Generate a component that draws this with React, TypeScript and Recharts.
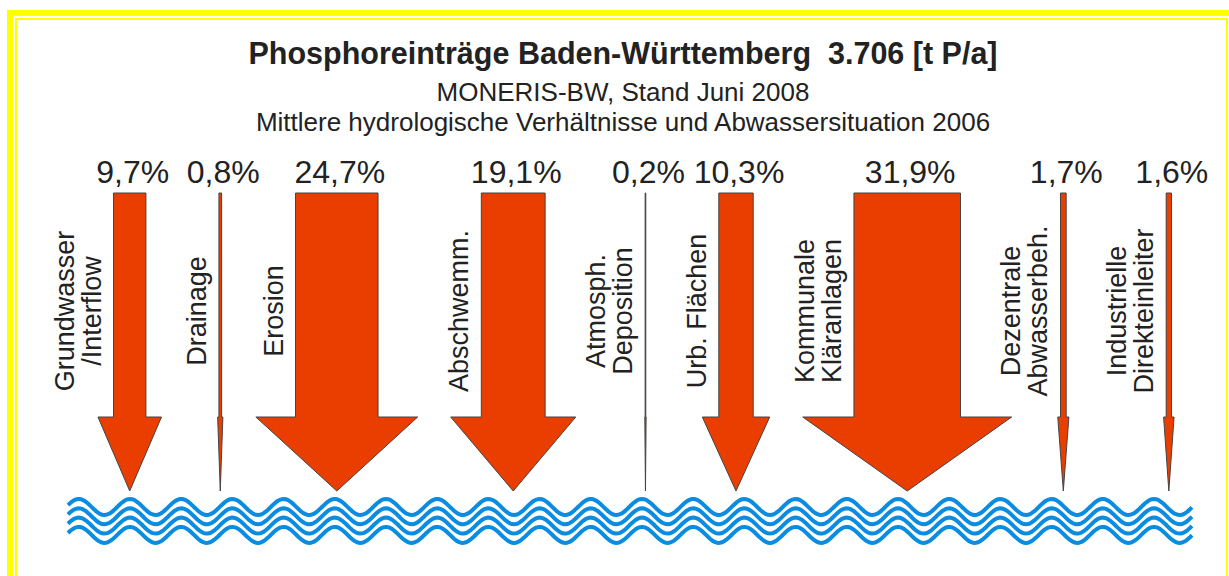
import React from 'react';
import { BarChart, Bar, XAxis, YAxis, Customized } from 'recharts';

// Eintragspfade (Beschriftung zeilenweise) und Anteile in %
const categories = [
  ['Grundwasser', '/Interflow'],
  ['Drainage'],
  ['Erosion'],
  ['Abschwemm.'],
  ['Atmosph.', 'Deposition'],
  ['Urb. Flächen'],
  ['Kommunale', 'Kläranlagen'],
  ['Dezentrale', 'Abwasserbeh.'],
  ['Industrielle', 'Direkteinleiter'],
];
const shares = [9.7, 0.8, 24.7, 19.1, 0.2, 10.3, 31.9, 1.7, 1.6];

const titleText = 'Phosphoreinträge Baden-Württemberg  3.706 [t P/a]';
const subtitles = [
  'MONERIS-BW, Stand Juni 2008',
  'Mittlere hydrologische Verhältnisse und Abwassersituation 2006',
];

// layout constants (px)
const PX_PER_PCT = 6.55;
const SHAFT_RATIO = 0.51;
const LINE_H = 27;
const LABEL_GAP = 13;
const SLOT_GAP = 33;
const W = 1229;
const H = 576;
const FIRST_X = 130;

// arrows are placed side by side: each one needs room for its head
// and for the rotated label sitting left of its shaft
const positions: number[] = [];
shares.forEach((v, i) => {
  if (i === 0) {
    positions.push(0);
    return;
  }
  const pv = shares[i - 1];
  const headRoom = ((pv + v) / 2) * PX_PER_PCT;
  const labelRoom =
    ((pv + v) / 2) * PX_PER_PCT * SHAFT_RATIO + categories[i].length * LINE_H + LABEL_GAP;
  positions.push(positions[i - 1] + Math.max(headRoom, labelRoom) + SLOT_GAP);
});

const data = categories.map((lines, i) => ({
  name: lines.join(' '),
  lines,
  pos: positions[i],
  value: shares[i],
}));

const fmt = (v: number) => v.toFixed(1).replace('.', ',') + '%';

const FONT = '"Liberation Sans", Arial, sans-serif';
const TEXT = '#222';

const Arrow = (props: any) => {
  const { x, width, payload, background } = props;
  const top = background ? background.y : props.y;
  const bottom = background ? background.y + background.height : props.y + props.height;
  const cx = x + width / 2;
  const head = payload.value * PX_PER_PCT;
  const shaft = head * SHAFT_RATIO;
  const neck = bottom - 74;
  const pts = [
    [cx - shaft / 2, top],
    [cx + shaft / 2, top],
    [cx + shaft / 2, neck],
    [cx + head / 2, neck],
    [cx, bottom],
    [cx - head / 2, neck],
    [cx - shaft / 2, neck],
  ]
    .map((p) => p.join(','))
    .join(' ');
  const lines: string[] = payload.lines;
  const left = cx - shaft / 2;
  return (
    <g>
      <polygon points={pts} fill="#EA3D00" stroke="#444" strokeWidth={1} />
      <text x={cx + 3} y={top - 10} textAnchor="middle" fontSize={32} fill={TEXT}>
        {fmt(payload.value)}
      </text>
      {lines.map((l, j) => {
        const bx = left - LABEL_GAP - (lines.length - 1 - j) * LINE_H;
        return (
          <text
            key={j}
            transform={`translate(${bx},${top + 118}) rotate(-90)`}
            textAnchor="middle"
            fontSize={27}
            fill={TEXT}
          >
            {l}
          </text>
        );
      })}
    </g>
  );
};

const Decor = () => {
  const waves = [0, 1, 2, 3].map((j) => {
    const pts: string[] = [];
    for (let px = 68; px <= 1193; px += 2) {
      const py = 507 + j * 9.3 - 8 * Math.cos((2 * Math.PI * (px - 130)) / 51.2);
      pts.push(`${px},${py.toFixed(1)}`);
    }
    return (
      <polyline key={j} points={pts.join(' ')} fill="none" stroke="#0A8CE0" strokeWidth={4} />
    );
  });
  return (
    <g>
      <rect x={10} y={13} width={1300} height={700} fill="none" stroke="#FFFF00" strokeWidth={6} />
      <rect x={16} y={19} width={1211} height={700} fill="none" stroke="#FFFF00" strokeWidth={2} />
      <text
        x={623}
        y={64}
        textAnchor="middle"
        fontSize={30.5}
        fontWeight="bold"
        fill={TEXT}
        style={{ whiteSpace: 'pre' }}
      >
        {titleText}
      </text>
      <text x={623} y={101} textAnchor="middle" fontSize={26} fill={TEXT}>
        {subtitles[0]}
      </text>
      <text x={623} y={131} textAnchor="middle" fontSize={26} fill={TEXT}>
        {subtitles[1]}
      </text>
      {waves}
    </g>
  );
};

export default function App() {
  return (
    <div
      style={{
        position: 'fixed',
        left: 0,
        top: 0,
        width: W,
        height: H,
        overflow: 'hidden',
        background: '#fff',
      }}
    >
      <BarChart
        width={W}
        height={H}
        data={data}
        margin={{ top: 193, right: 0, bottom: 85, left: 0 }}
        barSize={20}
        style={{ fontFamily: FONT }}
      >
        <XAxis dataKey="pos" type="number" domain={[-FIRST_X, W - FIRST_X]} hide />
        <YAxis hide domain={[0, 'dataMax']} />
        <Customized component={<Decor />} />
        <Bar dataKey="value" shape={<Arrow />} isAnimationActive={false} />
      </BarChart>
    </div>
  );
}
